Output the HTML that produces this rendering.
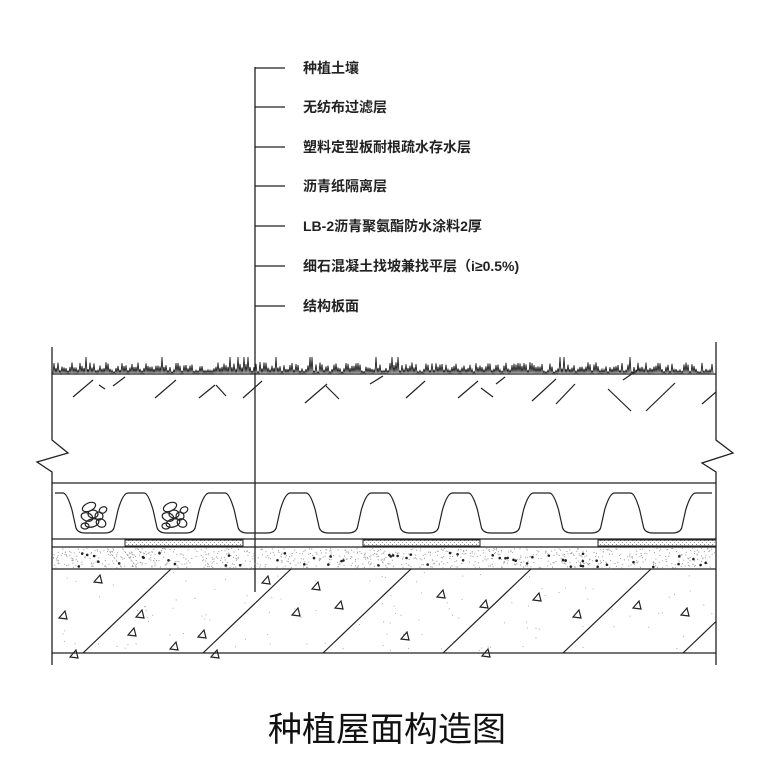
<!DOCTYPE html>
<html><head><meta charset="utf-8"><style>
html,body{margin:0;padding:0;background:#fff;width:771px;height:759px;overflow:hidden}
svg{display:block}
text{font-family:"Liberation Sans","Noto Sans CJK SC",sans-serif}
</style></head><body>
<svg id="s" width="771" height="759" viewBox="0 0 771 759" xmlns="http://www.w3.org/2000/svg">
<defs>
<pattern id="dots" width="4" height="4" patternUnits="userSpaceOnUse"><rect width="4" height="4" fill="#fff"/><rect x="0" y="0" width="1" height="1" fill="#888"/><rect x="2" y="2" width="1" height="1" fill="#aaa"/></pattern>
</defs>
<g stroke="#222" stroke-width="1.3" fill="none">
<!-- leader -->
<line x1="255" y1="67" x2="255" y2="592"/>
<line x1="255" y1="68" x2="285" y2="68"/>
<line x1="255" y1="107" x2="285" y2="107"/>
<line x1="255" y1="147" x2="285" y2="147"/>
<line x1="255" y1="186" x2="285" y2="186"/>
<line x1="255" y1="226" x2="285" y2="226"/>
<line x1="255" y1="266" x2="285" y2="266"/>
<line x1="255" y1="306" x2="285" y2="306"/>
<!-- walls -->
<polyline points="52,347 52,440 68,453 37,462 52,472 52,665"/>
<polyline points="716,342 716,440 733,453 702,463 716,472 716,665"/>
<line x1="52" y1="374" x2="716" y2="374"/>
<line x1="52" y1="483" x2="716" y2="483"/>
<line x1="52" y1="539" x2="716" y2="539"/>
<line x1="52" y1="547" x2="716" y2="547"/>
<line x1="52" y1="569" x2="716" y2="569"/>
<line x1="52" y1="653" x2="716" y2="653"/>
</g>
<g id="hatch"></g>
<g id="dyn" stroke="#222" stroke-width="1.2" fill="none"></g>
<g font-weight="bold" font-size="14" fill="#222">
<text x="303" y="73">种植土壤</text>
<text x="303" y="112">无纺布过滤层</text>
<text x="303" y="152">塑料定型板耐根疏水存水层</text>
<text x="303" y="191">沥青纸隔离层</text>
<text x="303" y="231">LB-2沥青聚氨酯防水涂料2厚</text>
<text x="303" y="271">细石混凝土找坡兼找平层（i≥0.5%)</text>
<text x="303" y="311">结构板面</text>
</g>
<text x="387" y="741" font-size="34" text-anchor="middle" fill="#111">种植屋面构造图</text>
</svg>
<script>
var ns="http://www.w3.org/2000/svg",d=document.getElementById('dyn'),h=document.getElementById('hatch');
function el(p,t,a){var e=document.createElementNS(ns,t);for(var k in a)e.setAttribute(k,a[k]);p.appendChild(e);return e;}
// hatched strips
[[125,243],[363,480],[598,716]].forEach(function(r){el(h,'rect',{x:r[0],y:540,width:r[1]-r[0],height:6,fill:'url(#dots)',stroke:'#222','stroke-width':1});});
// gravel layer speckles
var seed=7;function rnd(){seed=(seed*9301+49297)%233280;return seed/233280;}
for(var i=0;i<900;i++){el(h,'rect',{x:53+rnd()*662,y:548+rnd()*20,width:1,height:1,fill:'#999'});}
for(var i=0;i<60;i++){el(h,'circle',{cx:55+rnd()*658,cy:553+rnd()*14,r:1.3,fill:'#222'});}
for(var i=0;i<120;i++){el(h,'rect',{x:55+rnd()*658,y:572+rnd()*78,width:1,height:1,fill:'#aaa'});}
// corrugated board
var p="M55,493 ";var c=95,per=81.1;
var x0=c-15-14;p="M55,493 L"+(x0-3)+",493 ";
for(var k=0;k<8;k++){var cc=c+k*per;p+="Q"+(cc-28)+",493 "+(cc-23)+",510 L"+(cc-19)+",528 Q"+(cc-17)+",533 "+(cc-10)+",533 L"+(cc+10)+",533 Q"+(cc+17)+",533 "+(cc+19)+",528 L"+(cc+23)+",510 Q"+(cc+28)+",493 "+(cc+33)+",493 ";var nx=cc+per-29;if(k<7)p+="L"+(nx-3)+",493 ";}
p+="L712,493";el(d,'path',{d:p});
// pebbles
[[95],[176]].forEach(function(a){var cx=a[0];[[-6,-13,7,4,-25],[-2,-6,5,4,0],[-8,-3,6,4,20],[4,-4,4,4,0],[-3,3,7,4,-15],[6,3,5,4,30],[-10,6,4,3,0],[8,-10,4,3,-30]].forEach(function(e){el(d,'ellipse',{cx:cx+e[0],cy:520+e[1],rx:e[2],ry:e[3],transform:'rotate('+e[4]+' '+(cx+e[0])+' '+(520+e[1])+')'});});});
// grass
var g="M53,374 ";for(var x=54;x<714;x+=2){var y=374-(rnd()*10+2);if(rnd()<0.06)y=357;g+="L"+x+","+y.toFixed(1)+" L"+(x+1)+",373 ";}
el(d,'path',{d:g,'stroke-width':0.9});
// soil dashes
[[73,397,93,380],[99,385,105,389],[113,386,125,377],[155,398,176,380],[199,398,215,385],[216,385,226,396],[243,398,262,381],[305,403,327,384],[326,386,339,399],[370,384,383,376],[406,398,425,381],[458,398,478,381],[481,388,493,397],[496,384,505,377],[532,401,556,379],[556,404,575,384],[608,389,631,411],[623,380,639,369],[646,411,675,383],[702,404,716,392]].forEach(function(l){el(d,'line',{x1:l[0],y1:l[1],x2:l[2],y2:l[3]});});
// concrete diagonals
for(var k=0;k<6;k++){var bx=83+120*k,tx=bx+88;var ty=569;if(tx>716){ty=569+(tx-716)*84/88;tx=716;}el(d,'line',{x1:bx,y1:653,x2:tx,y2:ty});}
el(d,'line',{x1:52,y1:600,x2:52,y2:600});
// triangles
[[98,579],[63,615],[132,632],[202,634],[266,580],[140,614],[174,646],[316,586],[296,612],[339,605],[405,636],[441,594],[484,604],[537,597],[577,614],[637,605],[685,612],[74,654],[215,654],[486,653]].forEach(function(t){var x=t[0],y=t[1];el(d,'path',{d:"M"+(x-4)+","+(y+3)+" L"+(x+4)+","+(y+4)+" L"+(x+2)+","+(y-4)+"Z"});});
</script>
</body></html>
